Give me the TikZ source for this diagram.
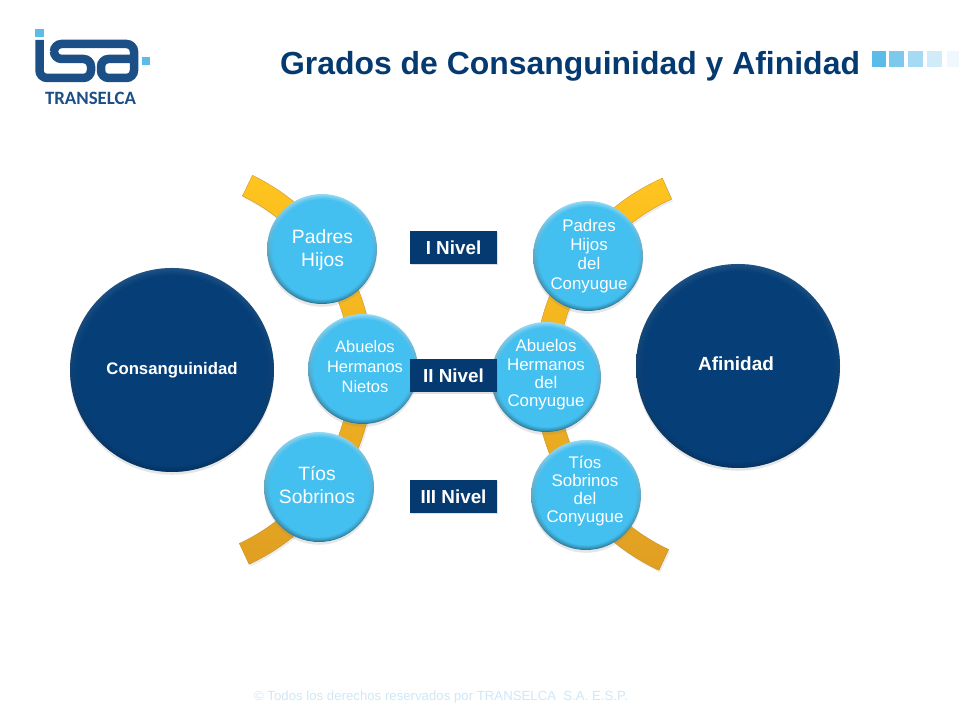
\documentclass[tikz,border=0pt]{standalone}
\usepackage{fontspec}
\setmainfont{Liberation Sans}
\newfontfamily\logofont{Carlito}
\usetikzlibrary{shadows,fadings}
\definecolor{navy}{HTML}{053A70}
\definecolor{deepblue}{HTML}{063F78}
\definecolor{logoblue}{HTML}{1B4F85}
\definecolor{skyblue}{HTML}{43BFF0}
\definecolor{squareblue}{HTML}{5BBCE8}
\definecolor{goldtop}{HTML}{FFC41F}
\definecolor{goldbot}{HTML}{E09F22}
\definecolor{footblue}{HTML}{CDE8F6}
\tikzset{
  ball/.style={circle,inner sep=0pt,align=center,text=white,minimum size=110*0.025cm,
    top color=#1!55!white,bottom color=#1!60!black,
    drop shadow={shadow xshift=0pt,shadow yshift=-2pt,opacity=0.2},
    path picture={\fill[#1,path fading=circle with fuzzy edge 10 percent]
      (path picture bounding box.center) circle (54.5*0.025cm);}},
  bigball/.style={ball=#1,minimum size=204*0.025cm,top color=#1!85!white,bottom color=#1!70!black,
    path picture={\fill[#1,path fading=circle with fuzzy edge 10 percent]
      (path picture bounding box.center) circle (105*0.025cm);}},
  nivel/.style={fill=navy,text=white,font=\fontsize{13.4}{16}\bfseries\selectfont,inner sep=0pt,
    minimum width=87*0.025cm,minimum height=33*0.025cm,
    drop shadow={shadow xshift=1pt,shadow yshift=-1pt,opacity=0.25}},
  ribbon/.style={top color=goldtop,bottom color=goldbot,draw=goldbot!85!black,line width=0.2pt,
    drop shadow={shadow xshift=1pt,shadow yshift=-1.5pt,opacity=0.15}},
  bigtext/.style={text=white,align=center,font=\fontsize{13.7}{16.4}\selectfont},
  smalltext/.style={text=white,align=center,font=\fontsize{12}{13.6}\selectfont},
  tighttext/.style={text=white,align=center,font=\fontsize{12}{13}\selectfont}
}
\begin{document}
\begin{tikzpicture}[x=0.025cm,y=0.025cm]
\useasboundingbox (0,0) rectangle (960,720);
\draw[logoblue,line width=8.5*0.025cm,rounded corners=0.19cm]
  (39.5,680)--(39.5,642)--(91,642)--(91,661)--(54,661)--(54,676)--(134,676)--(134,642)--(101,642)--(101,661)--(130,661);
\fill[squareblue] (35,683) rectangle (44,691);
\fill[squareblue] (142,655) rectangle (150,663);
\node[text=logoblue,font=\logofont\fontsize{13.4}{15}\bfseries\selectfont] (company) at (90.5,621.5) {TRANSELCA};
\node[text=navy,font=\fontsize{22.7}{26}\bfseries\selectfont] (title) at (570,654) {Grados de Consanguinidad y Afinidad};
\foreach \xa/\xb/\shade in {872/886/100,889/904/80,908/923/55,927/942/28,947/959/10}
  \fill[squareblue!\shade!white] (\xa,653) rectangle (\xb,669);
\coordinate (leftarc) at (158,351);
\coordinate (rightarc) at (750,345);
\path[ribbon] ([shift={(64:215.5)}]leftarc) arc[start angle=64,end angle=-65,radius=215.5]
  -- ([shift={(-65:192.5)}]leftarc) arc[start angle=-65,end angle=64,radius=192.5] -- cycle;
\path[ribbon] ([shift={(114:215.5)}]rightarc) arc[start angle=114,end angle=245,radius=215.5]
  -- ([shift={(245:192.5)}]rightarc) arc[start angle=245,end angle=114,radius=192.5] -- cycle;
\node[bigball=deepblue,font=\fontsize{11.9}{14}\bfseries\selectfont] (consang) at (172,350) {Consanguinidad};
\node[bigball=deepblue] (afinidad) at (738,354) {};
\node[text=white,font=\fontsize{13.5}{16}\bfseries\selectfont] (afinidadtext) at (736,356) {Afinidad};
\node[ball=skyblue] (padres) at (322,471) {};
\node[bigtext] (padrestext) at (322.5,470) {Padres\\Hijos};
\node[ball=skyblue] (abuelos) at (363,351) {};
\node[bigtext,font=\fontsize{11.7}{14.2}\selectfont] (abuelostext) at (365,353) {Abuelos\\Hermanos\\Nietos};
\node[ball=skyblue] (tios) at (319,233) {};
\node[bigtext] (tiostext) at (317,235) {T\'{\i}os\\Sobrinos};
\node[ball=skyblue] (padresc) at (588,464) {};
\node[smalltext] (padresctext) at (589,464) {Padres\\Hijos\\del\\Conyugue};
\node[ball=skyblue] (abuelosc) at (546,343) {};
\node[tighttext] (abueloctext) at (546,345) {Abuelos\\Hermanos\\del\\Conyugue};
\node[ball=skyblue] (tiosc) at (586,225) {};
\node[tighttext] (tiosctext) at (585,229) {T\'{\i}os\\Sobrinos\\del\\Conyugue};
\node[nivel] (nivel1) at (453.5,472.5) {I Nivel};
\node[nivel] (nivel2) at (453.5,344) {II Nivel};
\node[nivel] (nivel3) at (453.5,223.5) {III Nivel};
\node[text=footblue,font=\fontsize{9.4}{11}\selectfont] (footer) at (441,23) {\textcopyright{} Todos los derechos reservados por TRANSELCA\ \ S.A. E.S.P.};
\end{tikzpicture}
\end{document}
